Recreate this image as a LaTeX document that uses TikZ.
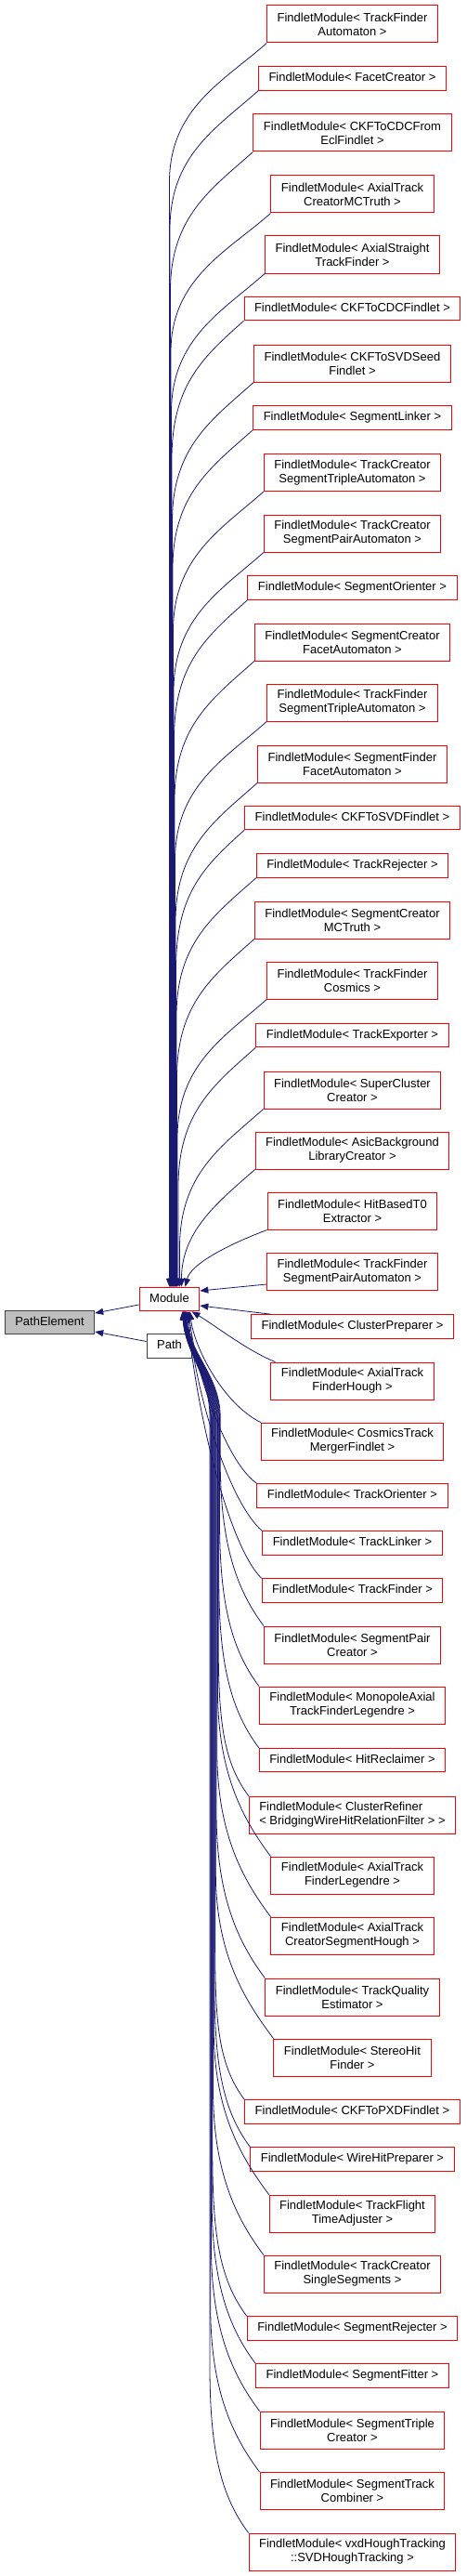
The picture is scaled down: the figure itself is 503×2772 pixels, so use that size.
\documentclass[tikz,border=0pt]{standalone}
\usepackage{fontspec}
\setmainfont{Liberation Sans}
\usetikzlibrary{arrows.meta}
\definecolor{edgeblue}{HTML}{191970}
\tikzset{
  cls/.style={draw=red, line width=1pt, font=\fontsize{13}{15}\selectfont, inner xsep=11pt, inner ysep=2pt,
    minimum height=25.5pt, text height=9.5pt, text depth=3pt},
  cls2/.style={draw=red, line width=1pt, font=\fontsize{13}{15}\selectfont, inner xsep=11pt, inner ysep=2pt,
    minimum height=40pt, align=center},
  link/.style={draw=edgeblue, line width=0.8pt, {Triangle[length=9pt,width=7pt]}-}
}

\begin{document}
\begin{tikzpicture}[x=1pt,y=-1pt]
            \useasboundingbox (0,0) rectangle (503,2772);
            % base classes
            \node[cls, draw=black!75, fill=black!25] (PathElement) at (53.5,1423) {PathElement};
            \node[cls] (Module) at (182.5,1398) {Module};
            \node[cls, draw=black!75] (Path) at (182.5,1448.5) {Path};
            % findlet modules
            \node[cls2] (tfAutomaton) at (379.5,26) {FindletModule< TrackFinder\\Automaton >};
            \node[cls] (facetCreator) at (379.5,84.5) {FindletModule< FacetCreator >};
            \node[cls2] (ckfCdcFromEcl) at (379.5,143) {FindletModule< CKFToCDCFrom\\EclFindlet >};
            \node[cls2] (axialMCTruth) at (379.5,209) {FindletModule< AxialTrack\\CreatorMCTruth >};
            \node[cls2] (axialStraight) at (379.5,274) {FindletModule< AxialStraight\\TrackFinder >};
            \node[cls] (ckfCdc) at (379.5,332) {FindletModule< CKFToCDCFindlet >};
            \node[cls2] (ckfSvdSeed) at (379.5,391) {FindletModule< CKFToSVDSeed\\Findlet >};
            \node[cls] (segLinker) at (379.5,449.5) {FindletModule< SegmentLinker >};
            \node[cls2] (tcTriple) at (379.5,508.5) {FindletModule< TrackCreator\\SegmentTripleAutomaton >};
            \node[cls2] (tcPair) at (379.5,574) {FindletModule< TrackCreator\\SegmentPairAutomaton >};
            \node[cls] (segOrienter) at (379.5,632.5) {FindletModule< SegmentOrienter >};
            \node[cls2] (segCreatorFacet) at (379.5,691) {FindletModule< SegmentCreator\\FacetAutomaton >};
            \node[cls2] (tfTriple) at (379.5,756) {FindletModule< TrackFinder\\SegmentTripleAutomaton >};
            \node[cls2] (segFinderFacet) at (379.5,822) {FindletModule< SegmentFinder\\FacetAutomaton >};
            \node[cls] (ckfSvd) at (379.5,880) {FindletModule< CKFToSVDFindlet >};
            \node[cls] (trackRejecter) at (379.5,931.5) {FindletModule< TrackRejecter >};
            \node[cls2] (segCreatorMC) at (379.5,990) {FindletModule< SegmentCreator\\MCTruth >};
            \node[cls2] (tfCosmics) at (379.5,1055) {FindletModule< TrackFinder\\Cosmics >};
            \node[cls] (trackExporter) at (379.5,1114) {FindletModule< TrackExporter >};
            \node[cls2] (superCluster) at (379.5,1173) {FindletModule< SuperCluster\\Creator >};
            \node[cls2] (asicBg) at (379.5,1238) {FindletModule< AsicBackground\\LibraryCreator >};
            \node[cls2] (hitBasedT0) at (379.5,1303) {FindletModule< HitBasedT0\\Extractor >};
            \node[cls2] (tfPair) at (379.5,1368.5) {FindletModule< TrackFinder\\SegmentPairAutomaton >};
            \node[cls] (clusterPrep) at (379.5,1427.5) {FindletModule< ClusterPreparer >};
            \node[cls2] (axialHough) at (379.5,1486) {FindletModule< AxialTrack\\FinderHough >};
            \node[cls2] (cosmicsMerger) at (379.5,1551) {FindletModule< CosmicsTrack\\MergerFindlet >};
            \node[cls] (trackOrienter) at (379.5,1609.5) {FindletModule< TrackOrienter >};
            \node[cls] (trackLinker) at (379.5,1660.5) {FindletModule< TrackLinker >};
            \node[cls] (trackFinder) at (379.5,1711.5) {FindletModule< TrackFinder >};
            \node[cls2] (segPairCreator) at (379.5,1770) {FindletModule< SegmentPair\\Creator >};
            \node[cls2] (monopole) at (379.5,1835) {FindletModule< MonopoleAxial\\TrackFinderLegendre >};
            \node[cls] (hitReclaimer) at (379.5,1894) {FindletModule< HitReclaimer >};
            \node[cls2, align=left] (clusterRefiner) at (379.5,1953) {FindletModule< ClusterRefiner\\< BridgingWireHitRelationFilter > >};
            \node[cls2] (axialLegendre) at (379.5,2018) {FindletModule< AxialTrack\\FinderLegendre >};
            \node[cls2] (axialSegHough) at (379.5,2083) {FindletModule< AxialTrack\\CreatorSegmentHough >};
            \node[cls2] (trackQuality) at (379.5,2149) {FindletModule< TrackQuality\\Estimator >};
            \node[cls2] (stereoHit) at (379.5,2214) {FindletModule< StereoHit\\Finder >};
            \node[cls] (ckfPxd) at (379.5,2272.5) {FindletModule< CKFToPXDFindlet >};
            \node[cls] (wireHitPrep) at (379.5,2323.5) {FindletModule< WireHitPreparer >};
            \node[cls2] (flightTime) at (379.5,2382) {FindletModule< TrackFlight\\TimeAdjuster >};
            \node[cls2] (tcSingle) at (379.5,2447) {FindletModule< TrackCreator\\SingleSegments >};
            \node[cls] (segRejecter) at (379.5,2505.5) {FindletModule< SegmentRejecter >};
            \node[cls] (segFitter) at (379.5,2556.5) {FindletModule< SegmentFitter >};
            \node[cls2] (segTriple) at (379.5,2615) {FindletModule< SegmentTriple\\Creator >};
            \node[cls2] (segTrack) at (379.5,2680.5) {FindletModule< SegmentTrack\\Combiner >};
            \node[cls2] (svdHough) at (379.5,2746) {FindletModule< vxdHoughTracking\\::SVDHoughTracking >};
            % inheritance to PathElement
            \draw[link] ([yshift=10pt]PathElement.east) -- ([yshift=-6pt]Module.west);
            \draw[link] ([yshift=-10pt]PathElement.east) -- ([yshift=5pt]Path.west);
            % upper modules
            \draw[link] ([xshift=0pt]Module.north) -- (182.5,196) .. controls +(0,-80) and +(-45,40) .. (tfAutomaton.south west);
            \draw[link] ([xshift=0.5pt]Module.north) -- (183,247) .. controls +(0,-80) and +(-45,40) .. (facetCreator.south west);
            \draw[link] ([xshift=1pt]Module.north) -- (183.5,313) .. controls +(0,-80) and +(-45,40) .. (ckfCdcFromEcl.south west);
            \draw[link] ([xshift=1.5pt]Module.north) -- (184,379) .. controls +(0,-80) and +(-45,40) .. (axialMCTruth.south west);
            \draw[link] ([xshift=2pt]Module.north) -- (184.5,444) .. controls +(0,-80) and +(-45,40) .. (axialStraight.south west);
            \draw[link] ([xshift=2.5pt]Module.north) -- (185,495) .. controls +(0,-80) and +(-45,40) .. (ckfCdc.south west);
            \draw[link] ([xshift=3pt]Module.north) -- (185.5,561) .. controls +(0,-80) and +(-45,40) .. (ckfSvdSeed.south west);
            \draw[link] ([xshift=3.5pt]Module.north) -- (186,612) .. controls +(0,-80) and +(-45,40) .. (segLinker.south west);
            \draw[link] ([xshift=4pt]Module.north) -- (186.5,679) .. controls +(0,-80) and +(-45,40) .. (tcTriple.south west);
            \draw[link] ([xshift=4.5pt]Module.north) -- (187,744) .. controls +(0,-80) and +(-45,40) .. (tcPair.south west);
            \draw[link] ([xshift=5pt]Module.north) -- (187.5,795) .. controls +(0,-80) and +(-45,40) .. (segOrienter.south west);
            \draw[link] ([xshift=5.5pt]Module.north) -- (188,861) .. controls +(0,-80) and +(-45,40) .. (segCreatorFacet.south west);
            \draw[link] ([xshift=6pt]Module.north) -- (188.5,926) .. controls +(0,-80) and +(-45,40) .. (tfTriple.south west);
            \draw[link] ([xshift=6.5pt]Module.north) -- (189,992) .. controls +(0,-80) and +(-45,40) .. (segFinderFacet.south west);
            \draw[link] ([xshift=7pt]Module.north) -- (189.5,1043) .. controls +(0,-80) and +(-45,40) .. (ckfSvd.south west);
            \draw[link] ([xshift=7.5pt]Module.north) -- (190,1094) .. controls +(0,-80) and +(-45,40) .. (trackRejecter.south west);
            \draw[link] ([xshift=8pt]Module.north) -- (190.5,1160) .. controls +(0,-80) and +(-45,40) .. (segCreatorMC.south west);
            \draw[link] ([xshift=8.5pt]Module.north) -- (191,1225) .. controls +(0,-80) and +(-45,40) .. (tfCosmics.south west);
            \draw[link] ([xshift=9.5pt]Module.north) -- (192,1277) .. controls +(0,-80) and +(-45,40) .. (trackExporter.south west);
            \draw[link] ([xshift=11pt]Module.north) -- (193.5,1343) .. controls +(0,-80) and +(-45,40) .. (superCluster.south west);
            \draw[link] ([xshift=13pt]Module.north) .. controls +(0,-60) and +(-40,35) .. (asicBg.south west);
            \draw[link] ([xshift=17pt]Module.north) .. controls +(6,-25) and +(-40,15) .. (hitBasedT0.south west);
            % side modules
            \draw[link] ([yshift=9pt]Module.east) -- ([yshift=-13.5pt]tfPair.west);
            \draw[link] ([yshift=-7pt]Module.east) -- ([xshift=22pt]clusterPrep.north west);
            % lower modules
            \draw[link] ([xshift=24pt]Module.south) .. controls +(25,15) and +(-30,-12) .. ([xshift=5pt]axialHough.north west);
            \draw[link] ([xshift=22pt]Module.south) .. controls +(5,40) and +(-40,-20) .. (cosmicsMerger.north west);
            \draw[link] ([xshift=21pt]Module.south) .. controls +(6,60) and +(-35,-25) .. (trackOrienter.north west);
            \draw[link] ([xshift=20pt]Module.south) .. controls +(8,90) and +(-35,-30) .. (trackLinker.north west);
            \draw[link] ([xshift=19pt]Module.south) .. controls +(10,110) and +(-35,-35) .. (trackFinder.north west);
            \draw[link] ([xshift=18pt]Module.south) .. controls +(3,45) and +(0,-45) .. (237.2,1525) -- (237.2,1570) .. controls +(0,90) and +(-30,-40) .. (segPairCreator.north west);
            \draw[link] ([xshift=17.75pt]Module.south) .. controls +(3,45) and +(0,-45) .. (236.5,1525) -- (236.5,1635) .. controls +(0,90) and +(-30,-40) .. (monopole.north west);
            \draw[link] ([xshift=17.5pt]Module.south) .. controls +(3,45) and +(0,-45) .. (235.8,1525) -- (235.8,1701) .. controls +(0,90) and +(-30,-40) .. (hitReclaimer.north west);
            \draw[link] ([xshift=17.25pt]Module.south) .. controls +(3,45) and +(0,-45) .. (235.1,1525) -- (235.1,1753) .. controls +(0,90) and +(-30,-40) .. (clusterRefiner.north west);
            \draw[link] ([xshift=17pt]Module.south) .. controls +(3,45) and +(0,-45) .. (234.4,1525) -- (234.4,1818) .. controls +(0,90) and +(-30,-40) .. (axialLegendre.north west);
            \draw[link] ([xshift=16.75pt]Module.south) .. controls +(3,45) and +(0,-45) .. (233.7,1525) -- (233.7,1883) .. controls +(0,90) and +(-30,-40) .. (axialSegHough.north west);
            \draw[link] ([xshift=16.5pt]Module.south) .. controls +(3,45) and +(0,-45) .. (233,1525) -- (233,1949) .. controls +(0,90) and +(-30,-40) .. (trackQuality.north west);
            \draw[link] ([xshift=16.25pt]Module.south) .. controls +(3,45) and +(0,-45) .. (232.3,1525) -- (232.3,2014) .. controls +(0,90) and +(-30,-40) .. (stereoHit.north west);
            \draw[link] ([xshift=16pt]Module.south) .. controls +(3,45) and +(0,-45) .. (231.6,1525) -- (231.6,2080) .. controls +(0,90) and +(-30,-40) .. (ckfPxd.north west);
            \draw[link] ([xshift=15.75pt]Module.south) .. controls +(3,45) and +(0,-45) .. (230.9,1525) -- (230.9,2131) .. controls +(0,90) and +(-30,-40) .. (wireHitPrep.north west);
            \draw[link] ([xshift=15.5pt]Module.south) .. controls +(3,45) and +(0,-45) .. (230.2,1525) -- (230.2,2182) .. controls +(0,90) and +(-30,-40) .. (flightTime.north west);
            \draw[link] ([xshift=15.25pt]Module.south) .. controls +(3,45) and +(0,-45) .. (229.5,1525) -- (229.5,2247) .. controls +(0,90) and +(-30,-40) .. (tcSingle.north west);
            \draw[link] ([xshift=15pt]Module.south) .. controls +(3,45) and +(0,-45) .. (228.8,1525) -- (228.8,2313) .. controls +(0,90) and +(-30,-40) .. (segRejecter.north west);
            \draw[link] ([xshift=14.75pt]Module.south) .. controls +(3,45) and +(0,-45) .. (228.1,1525) -- (228.1,2364) .. controls +(0,90) and +(-30,-40) .. (segFitter.north west);
            \draw[link] ([xshift=14.5pt]Module.south) .. controls +(3,45) and +(0,-45) .. (227.4,1525) -- (227.4,2415) .. controls +(0,90) and +(-30,-40) .. (segTriple.north west);
            \draw[link] ([xshift=14.25pt]Module.south) .. controls +(3,45) and +(0,-45) .. (226.7,1525) -- (226.7,2481) .. controls +(0,90) and +(-30,-40) .. (segTrack.north west);
            \draw[link] ([xshift=14pt]Module.south) .. controls +(3,45) and +(0,-45) .. (226,1525) -- (226,2546) .. controls +(0,90) and +(-30,-40) .. (svdHough.north west);
        \end{tikzpicture}
\end{document}
